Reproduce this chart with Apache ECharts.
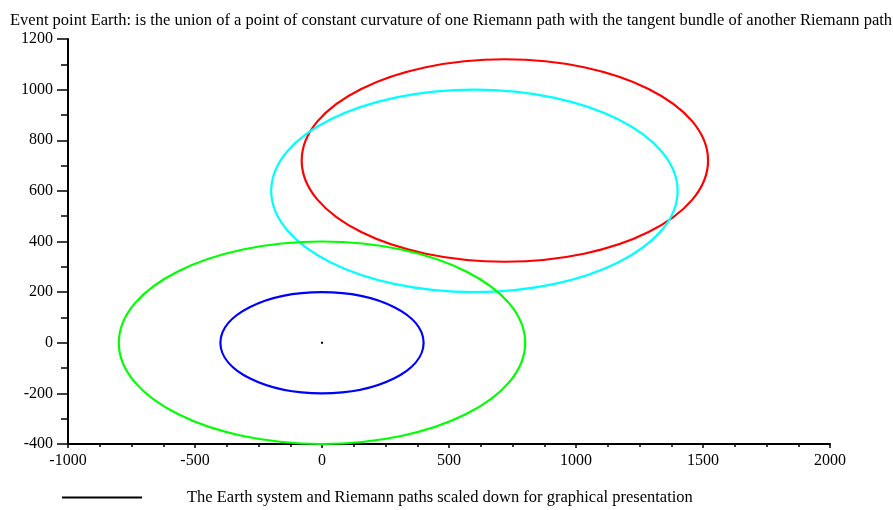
<!DOCTYPE html>
<html>
<head>
<meta charset="utf-8">
<script src="https://cdn.jsdelivr.net/npm/echarts@6/dist/echarts.min.js"></script>
<style>html,body{margin:0;padding:0;background:#fff;}#c{width:893px;height:510px;}</style>
</head>
<body>
<div id="c"></div>
<script>
// Ellipse paths: [centerX, centerY, radiusX, radiusY]
const blueEllipse = [0, 0, 400, 200];
const greenEllipse = [0, 0, 800, 400];
const cyanEllipse = [600, 600, 800, 400];
const redEllipse = [720, 720, 800, 400];
const earthPoint = [0, 0];
const xTicks = [-1000, -500, 0, 500, 1000, 1500, 2000];
const yTicks = [-400, -200, 0, 200, 400, 600, 800, 1000, 1200];
const titleText = 'Event point Earth: is the union of a point of constant curvature of one Riemann path with the tangent bundle of another Riemann path';
const legendText = 'The Earth system and Riemann paths scaled down for graphical presentation';

const font = '"Liberation Serif", "DejaVu Serif", serif';

function ellipseSeries(name, params, color) {
  return {
    type: 'custom',
    name: name,
    coordinateSystem: 'cartesian2d',
    data: [params],
    silent: true,
    clip: false,
    renderItem: function (p, api) {
      const c = api.coord([api.value(0), api.value(1)]);
      const s = api.size([api.value(2), api.value(3)]);
      return {
        type: 'ellipse',
        shape: { cx: c[0], cy: c[1], rx: s[0], ry: s[1] },
        style: { fill: 'none', stroke: color, lineWidth: 2.2 }
      };
    }
  };
}

const chart = echarts.init(document.getElementById('c'));
chart.setOption({
  animation: false,
  backgroundColor: '#fff',
  title: {
    text: titleText,
    left: 5, top: 7,
    textStyle: { fontFamily: font, fontSize: 16.5, fontWeight: 'normal', color: '#000' }
  },
  legend: {
    data: [legendText],
    left: 57, top: 484,
    icon: 'rect',
    itemWidth: 80, itemHeight: 2,
    itemGap: 0,
    textStyle: { fontFamily: font, fontSize: 16.5, color: '#000', padding: [0, 0, 0, 40] }
  },
  grid: { left: 68, right: 63, top: 39, bottom: 66, containLabel: false },
  xAxis: {
    type: 'value',
    min: xTicks[0], max: xTicks[xTicks.length - 1], interval: 500,
    axisLine: { onZero: false, lineStyle: { color: '#000', width: 2 } },
    axisTick: { length: 4, lineStyle: { color: '#000', width: 1.5 } },
    minorTick: { show: true, splitNumber: 4, length: 3, lineStyle: { color: '#000', width: 1.5 } },
    splitLine: { show: false },
    axisLabel: { margin: 9, fontFamily: font, fontSize: 16, color: '#000', formatter: v => String(v) }
  },
  yAxis: {
    type: 'value',
    min: yTicks[0], max: yTicks[yTicks.length - 1], interval: 200,
    axisLine: { onZero: false, lineStyle: { color: '#000', width: 2 } },
    axisTick: { length: 11, lineStyle: { color: '#000', width: 1.5 } },
    minorTick: { show: true, splitNumber: 2, length: 7, lineStyle: { color: '#000', width: 1.5 } },
    splitLine: { show: false },
    axisLabel: { margin: 15, fontFamily: font, fontSize: 16, color: '#000', formatter: v => String(v) }
  },
  series: [
    ellipseSeries('red', redEllipse, '#ff0000'),
    ellipseSeries('cyan', cyanEllipse, '#00ffff'),
    ellipseSeries('green', greenEllipse, '#00ff00'),
    ellipseSeries('blue', blueEllipse, '#0000ff'),
    {
      type: 'line',
      name: legendText,
      data: [earthPoint],
      symbol: 'rect',
      symbolSize: 2,
      showSymbol: true,
      itemStyle: { color: '#000' },
      lineStyle: { color: '#000', width: 2 },
      silent: true
    }
  ]
});
</script>
</body>
</html>
